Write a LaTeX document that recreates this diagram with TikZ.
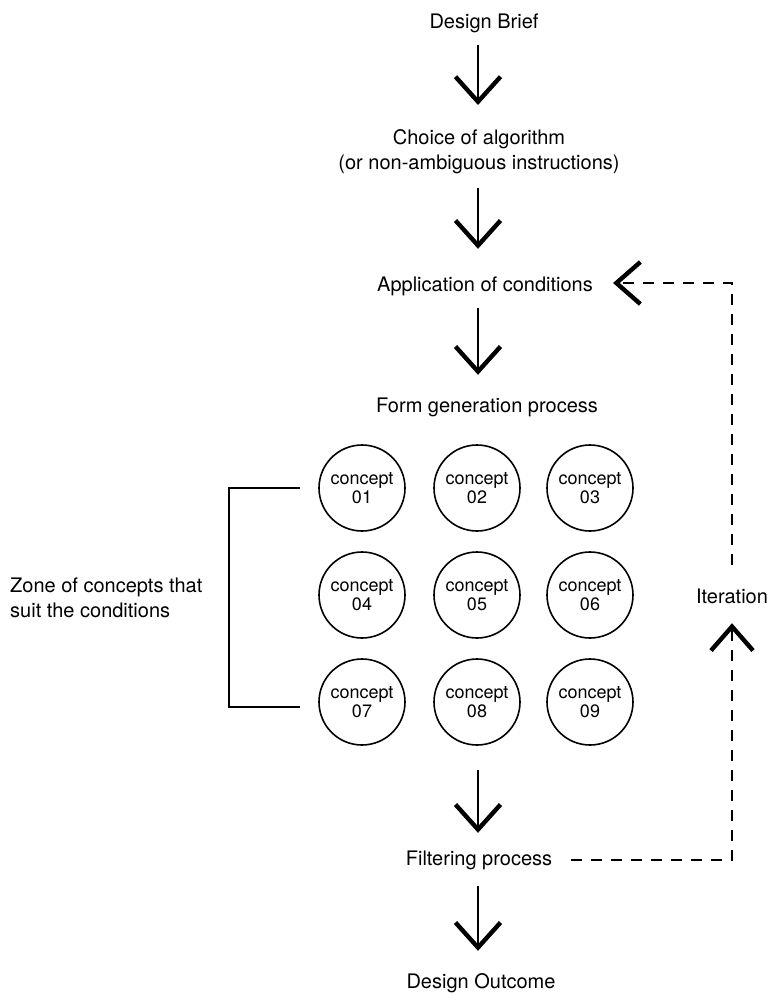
\documentclass[tikz,border=0pt]{standalone}
\usepackage{fontspec}
\setmainfont{TeX Gyre Heros}
\usetikzlibrary{arrows.meta}
\begin{document}
\begin{tikzpicture}[x=1pt,y=-1pt,
  lbl/.style={inner sep=0pt, font=\fontsize{20}{22}\selectfont, text height=14pt, text depth=4pt, anchor=base},
  mlbl/.style={inner sep=0pt, font=\fontsize{20}{25}\selectfont, align=center},
  concept/.style={circle, draw, line width=1.6pt, minimum size=86pt, inner sep=0pt,
    align=center, font=\fontsize{18}{19.5}\selectfont},
  flow/.style={line width=2pt, -{Straight Barb[length=25pt,width=45pt,line width=4.4pt]}},
  iterline/.style={line width=2.6pt, dash pattern=on 11pt off 9pt,
    -{Straight Barb[length=24pt,width=42pt,line width=4.4pt]}},
  bracketline/.style={line width=1.6pt}
]
\useasboundingbox (0,0) rectangle (768,994);
\coordinate (spine) at (478,0);

\node[lbl] (brief) at (484,28) {Design Brief};
\node[mlbl, anchor=north] (choice) at (479,129) {Choice of algorithm\\(or non-ambiguous instructions)};
\node[lbl] (apply) at (485,291) {Application of conditions};
\node[lbl] (form) at (487,412) {Form generation process};
\node[lbl] (filter) at (479,865) {Filtering process};
\node[lbl] (outcome) at (481,988) {Design Outcome};
\node[lbl] (iter) at (732,603) {Iteration};
\node[mlbl, align=left, anchor=west] (zone) at (10,598) {Zone of concepts that\\suit the conditions};

\node[concept] (c01) at (362,488) {concept\\01};
\node[concept] (c02) at (477,488) {concept\\02};
\node[concept] (c03) at (590,488) {concept\\03};
\node[concept] (c04) at (362,595) {concept\\04};
\node[concept] (c05) at (477,595) {concept\\05};
\node[concept] (c06) at (590,595) {concept\\06};
\node[concept] (c07) at (362,702) {concept\\07};
\node[concept] (c08) at (477,702) {concept\\08};
\node[concept] (c09) at (590,702) {concept\\09};

% main flow arrows
\draw[flow, shorten <=13pt, shorten >=24pt] (brief.south -| spine) -- (choice.north -| spine);
\draw[flow, shorten <=14pt, shorten >=28pt] (choice.south -| spine) -- (apply.north -| spine);
\draw[flow, shorten <=13pt, shorten >=23pt] (apply.south -| spine) -- (form.north -| spine);
\draw[flow, shorten <=24pt, shorten >=18pt] (c08.south -| spine) -- (filter.north -| spine);
\draw[flow, shorten <=17pt, shorten >=23pt] (filter.south -| spine) -- (outcome.north -| spine);

% bracket
\coordinate (bt) at (300,488);
\coordinate (bb) at (300,707);
\draw[bracketline] (bt) -- (229,488) -- (229,707) -- (bb);

% iteration loop
\draw[iterline, shorten <=19pt, shorten >=16pt] (filter.east) -| (iter.south);
\draw[iterline, shorten <=24pt, shorten >=20pt] (iter.north) |- ([yshift=3pt]apply.east);
\end{tikzpicture}
\end{document}
